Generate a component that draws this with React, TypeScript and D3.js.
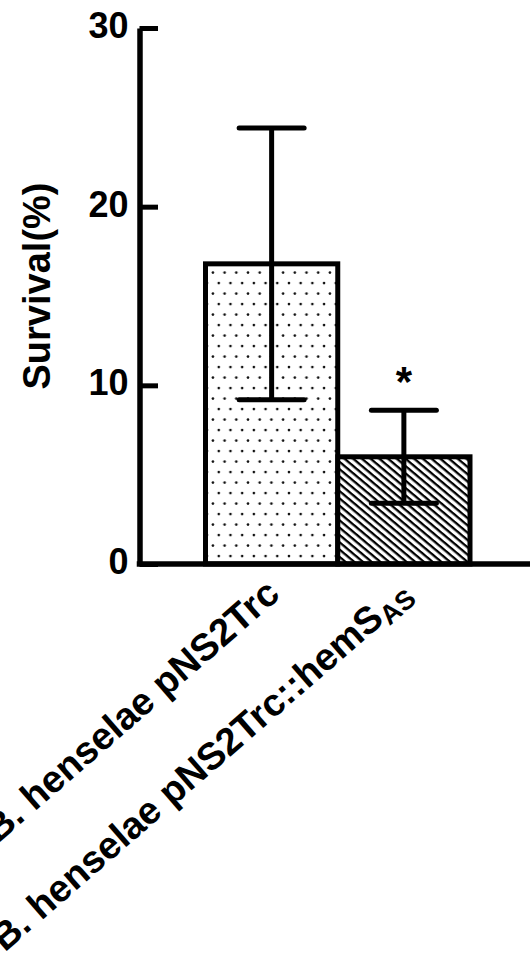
import React, { useEffect, useRef } from 'react';
import * as d3 from 'd3';

const categories = ['B. henselae pNS2Trc', 'B. henselae pNS2Trc::hemS'];
const subscripts = ['', 'AS'];
const means = [16.8, 6.0];
const errors = [7.6, 2.6];
const patterns = ['dots', 'hatch'];
const yTicks = [0, 10, 20, 30];
const significance = ['', '*'];

const WIDTH = 530;
const HEIGHT = 969;

export default function App() {
  const svgRef = useRef<SVGSVGElement>(null);

  useEffect(() => {
    if (!svgRef.current) return;
    const svg = d3.select(svgRef.current);
    svg.selectAll('*').remove();

    const font = "'Liberation Sans', Arial, sans-serif";
    const axisX = 139.5;

    const y = d3.scaleLinear().domain([0, 30]).range([564, 28]);
    const x = d3.scaleBand<string>().domain(categories).range([205.5, 470]).padding(0);

    // Patterns
    const defs = svg.append('defs');
    const dots = defs
      .append('pattern')
      .attr('id', 'dots')
      .attr('patternUnits', 'userSpaceOnUse')
      .attr('width', 11.7)
      .attr('height', 21)
      .attr('x', 210)
      .attr('y', 270);
    dots.append('rect').attr('width', 11.7).attr('height', 21).attr('fill', '#fff');
    dots.append('circle').attr('cx', 2.9).attr('cy', 2.6).attr('r', 1.3).attr('fill', '#111');
    dots.append('circle').attr('cx', 8.75).attr('cy', 13.1).attr('r', 1.3).attr('fill', '#111');

    const hatch = defs
      .append('pattern')
      .attr('id', 'hatch')
      .attr('patternUnits', 'userSpaceOnUse')
      .attr('width', 10)
      .attr('height', 5.6)
      .attr('patternTransform', 'rotate(40)');
    hatch.append('rect').attr('width', 10).attr('height', 5.6).attr('fill', '#fff');
    hatch.append('rect').attr('y', 0).attr('width', 10).attr('height', 2.3).attr('fill', '#000');

    // Bars
    svg
      .append('g')
      .selectAll('rect')
      .data(categories)
      .enter()
      .append('rect')
      .attr('x', (d) => x(d)!)
      .attr('y', (d, i) => y(means[i]))
      .attr('width', x.bandwidth())
      .attr('height', (d, i) => y(0) - y(means[i]))
      .attr('fill', (d, i) => `url(#${patterns[i]})`)
      .attr('stroke', '#000')
      .attr('stroke-width', 5);

    // Error bars
    const eb = svg
      .append('g')
      .attr('stroke', '#000')
      .attr('stroke-width', 5)
      .selectAll('g')
      .data(categories)
      .enter()
      .append('g');
    eb.append('line')
      .attr('x1', (d) => x(d)! + x.bandwidth() / 2)
      .attr('x2', (d) => x(d)! + x.bandwidth() / 2)
      .attr('y1', (d, i) => y(means[i] - errors[i]))
      .attr('y2', (d, i) => y(means[i] + errors[i]));
    [-1, 1].forEach((s) => {
      eb.append('line')
        .attr('stroke-linecap', 'round')
        .attr('x1', (d) => x(d)! + x.bandwidth() / 2 - 32.5)
        .attr('x2', (d) => x(d)! + x.bandwidth() / 2 + 32.5)
        .attr('y1', (d, i) => y(means[i] + s * errors[i]))
        .attr('y2', (d, i) => y(means[i] + s * errors[i]));
    });

    // Significance marks
    svg
      .append('g')
      .selectAll('text')
      .data(categories)
      .enter()
      .append('text')
      .attr('x', (d) => x(d)! + x.bandwidth() / 2)
      .attr('y', (d, i) => y(means[i] + errors[i]) - 14)
      .attr('text-anchor', 'middle')
      .attr('font-family', font)
      .attr('font-size', 42)
      .attr('font-weight', 'bold')
      .text((d, i) => significance[i]);

    // Y axis
    const yAxis = svg
      .append('g')
      .attr('transform', `translate(${axisX},0)`)
      .call(
        d3
          .axisLeft(y)
          .tickValues(yTicks)
          .tickFormat(d3.format('d'))
          .tickSizeInner(-18.5)
          .tickSizeOuter(0)
          .tickPadding(11)
      );
    yAxis.select('.domain').attr('stroke-width', 5.5).attr('stroke', '#000');
    yAxis.selectAll('.tick line').attr('stroke-width', 5).attr('stroke', '#000');
    yAxis
      .selectAll('.tick text')
      .attr('font-family', font)
      .attr('font-size', 36)
      .attr('font-weight', 'bold')
      .attr('fill', '#000')
      .attr('dy', '0.26em');

    // X axis line
    svg
      .append('line')
      .attr('x1', axisX - 2.75)
      .attr('x2', WIDTH)
      .attr('y1', y(0))
      .attr('y2', y(0))
      .attr('stroke', '#000')
      .attr('stroke-width', 5.5);

    // Y label
    svg
      .append('text')
      .attr('transform', `translate(50,286) rotate(-90)`)
      .attr('text-anchor', 'middle')
      .attr('font-family', font)
      .attr('font-size', 38)
      .attr('font-weight', 'bold')
      .text('Survival(%)');

    // X labels
    const xl = svg
      .append('g')
      .selectAll('text')
      .data(categories)
      .enter()
      .append('text')
      .attr(
        'transform',
        (d) => `translate(${x(d)! + x.bandwidth() / 2 + 10},597) rotate(-41)`
      )
      .attr('text-anchor', 'end')
      .attr('font-family', font)
      .attr('font-size', 38)
      .attr('font-weight', 'bold');
    xl.append('tspan').text((d) => d);
    xl.append('tspan')
      .attr('font-size', 27)
      .attr('dy', 6)
      .text((d, i) => subscripts[i]);
  }, []);

  return (
    <div style={{ position: 'absolute', left: 0, top: 0, width: WIDTH, height: HEIGHT }}>
      <svg ref={svgRef} width={WIDTH} height={HEIGHT} style={{ display: 'block', background: '#fff' }} />
    </div>
  );
}
